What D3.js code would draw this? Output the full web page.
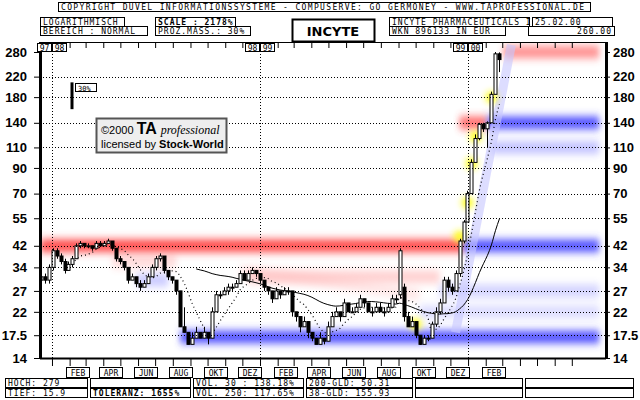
<!DOCTYPE html>
<html><head><meta charset="utf-8">
<script src="https://cdn.jsdelivr.net/npm/d3@7"></script>
<style>
body{margin:0;background:#fff}
text{font-family:"DejaVu Sans Mono",monospace;font-size:8px}
.hd{letter-spacing:1px}
.yl{font-family:"Liberation Sans",sans-serif;font-size:13px;font-weight:bold}
</style></head><body>
<svg id="chart" width="640" height="400"></svg>
<script>
// Weekly candles [open, high, low, close], first week 1997-12-12.
var candles = [
  [30,32,29,31],[31,32,29,30],[30,35,29,34],[34,41,33,40],[40,41,37,38],[38,39,35,36],
  [36,37,32,33],[33,36,33,35],[35,38,34,37],[37,43,37,42],[42,44,41,43],[43,43,41,42],
  [42,43,41,42],[42,42,40,41],[41,44,41,43],[43,44,42,42],[42,44,42,43],[43,45,43,44],
  [44,44,40,41],[41,41,36,37],[37,38,35,36],[36,36,33,34],[34,34,29,30],[30,32,30,31],
  [31,31,28,29],[29,30,27,28],[28,30,28,29],[29,32,29,31],[31,35,31,34],[34,38,33,37],
  [37,39,36,38],[38,38,32,33],[33,33,30,31],[31,31,29,30],[30,30,26,27],[27,27,19,19],
  [19,23,18,18],[18,18,16,16],[16,18,16,17],[17,19,17,18],[18,18,17,17],[17,19,17,18],
  [18,18,16,17],[17,23,17,22],[22,27,22,26],[26,27,25,26],[26,28,26,27],[27,29,26,28],
  [28,29,27,28],[28,30,28,29],[29,33,29,32],[32,33,30,30],[30,33,30,32],[32,34,32,33],
  [33,33,31,32],[32,32,29,30],[30,30,27,28],[28,28,26,27],[27,27,24,25],[25,28,25,27],
  [27,27,25,26],[26,28,26,27],[27,28,26,27],[27,27,21,22],[22,22,20,21],[21,21,18,19],
  [19,21,19,20],[20,20,17,18],[18,18,16.5,17],[17,17,16,16],[16,18,16,17],[17,17,16,16.5],
  [16.5,20,16.5,19],[19,22,19,21],[21,23,21,22],[22,22,20,21],[21,25,21,24],[24,24,22,22],
  [22,23,22,22],[22,24,22,23],[23,26,23,25],[25,25,23,24],[24,24,22,22],[22,23,21,22],
  [22,24,22,23],[23,24,22,22],[22,23,21,22],[22,24,22,23],[23,26,23,25],[25,26,24,25],
  [26,41,25,40],[28,29,20,21],[21,22,19,19],[19,21,19,20],[20,20,17,17.5],[17.5,17.5,15.9,16],
  [16,17.5,16,17],[17,17.5,16.5,17],[17,20,17,19.5],[19.5,23,19,22],[22,25,21.5,24],[24,31,24,30],
  [30,31,27,28],[28,29,26,27],[27,33,27,32],[32,45,31,44],[44,54,43,53],[53,72,53,70],
  [70,98,70,95],[95,125,95,120],[120,140,118,138],[138,140,128,132],[132,142,110,140],
  [140,190,140,185],[185,280,185,275],[275,279,230,260]
];
var firstWeek = new Date(1997, 11, 12);

var yTicks = [280, 220, 180, 140, 110, 90, 70, 55, 42, 34, 27, 22, 17.5, 14];
var monthLabels = ["FEB","APR","JUN","AUG","OKT","DEZ","FEB","APR","JUN","AUG","OKT","DEZ","FEB"];
var yearMarks = [["97","98"],["98","99"],["99","00"]];

// Resistance (red) and support (blue) zones: [value, fromWeek, toWeek, strength]
var redZones = [[42, 0, 106, 1], [280, 116, 140, 0.6], [140, 105, 112, 0.8], [31, 52, 100, 0.25], [36, 18, 34, 0.2]];
var blueZones = [[17.2, 35, 140, 1], [42, 106, 140, 1], [140, 112, 140, 1], [110, 113, 140, 0.35], [30, 24, 32, 0.3], [27, 100, 140, 0.25], [22, 95, 140, 0.2]];
// Highlighted breakout points
var glowWeek = [94, 105, 107, 108, 109, 113];
var glowVal = [19.5, 46, 64, 94, 122, 180];

var header = [
  [58, 2, 532, "COPYRIGHT  DUVEL INFORMATIONSSYSTEME - COMPUSERVE: GO GERMONEY - WWW.TAPROFESSIONAL.DE", false],
  [40, 17, 84, "LOGARITHMISCH", false], [40, 26, 107, "BEREICH : NORMAL", false],
  [155, 17, 80, "SCALE : 2178%", true], [155, 26, 95, "PROZ.MASS.: 30%", false],
  [389, 17, 140, "INCYTE PHARMACEUTICALS I", false], [532, 17, 80, "25.02.00", false],
  [389, 26, 116, "WKN 896133   IN EUR", false], [528, 26, 86, "260.00", false, "end"]
];
var footer = [
  ["HOCH: 279", "TIEF: 15.9"], ["", "TOLERANZ: 1655%"], ["VOL. 30 : 138.18%", "VOL. 250: 117.65%"],
  ["200-GLD: 50.31", " 38-GLD: 155.93"], ["", ""], ["", ""]
];
var footerX = [5, 90, 193, 306, 415, 525, 636];

var svg = d3.select("#chart");
var pl = 40, pr = 606, pt = 42, pb = 358;

var x = d3.scaleTime().domain([new Date(1997, 11, 11), new Date(2000, 7, 30)]).range([pl, pr]);
var y = d3.scaleLog().domain([14, 280]).range([pb, 52]);
var wk = function(i) { return x(d3.timeWeek.offset(firstWeek, i)); };

var defs = svg.append("defs");
defs.append("filter").attr("id", "blur").attr("x", "-20%").attr("y", "-200%").attr("width", "140%").attr("height", "500%")
  .append("feGaussianBlur").attr("stdDeviation", "3 4");
defs.append("filter").attr("id", "glow").attr("x", "-100%").attr("y", "-100%").attr("width", "300%").attr("height", "300%")
  .append("feGaussianBlur").attr("stdDeviation", 3);
defs.append("clipPath").attr("id", "clip").append("rect")
  .attr("x", pl).attr("y", pt).attr("width", pr - pl).attr("height", pb - pt);

var plot = svg.append("g").attr("clip-path", "url(#clip)");

// Zones.
function zones(list, col) {
  plot.selectAll(null).data(list).enter().append("rect")
    .attr("x", function(d) { return wk(d[1]); })
    .attr("width", function(d) { return wk(d[2]) - wk(d[1]); })
    .attr("y", function(d) { return y(d[0]) - 6; })
    .attr("height", 12)
    .attr("fill", col)
    .attr("opacity", function(d) { return d[3]; })
    .attr("filter", "url(#blur)");
}
zones(redZones, "#ff4040");
zones(blueZones, "#4a4aff");

// Trend channel.
plot.append("line")
  .attr("x1", wk(104)).attr("y1", y(18)).attr("x2", wk(118)).attr("y2", y(300))
  .attr("stroke", "#c8c8ff").attr("stroke-width", 9).attr("opacity", 0.6);
plot.append("line")
  .attr("x1", wk(50)).attr("y1", y(33)).attr("x2", wk(95)).attr("y2", y(26))
  .attr("stroke", "#ffb0b0").attr("stroke-width", 10).attr("opacity", 0.35).attr("filter", "url(#blur)");

plot.selectAll(null).data(glowWeek).enter().append("circle")
  .attr("cx", function(d) { return wk(d); })
  .attr("cy", function(d, i) { return y(glowVal[i]); })
  .attr("r", 6).attr("fill", "#ffff20").attr("filter", "url(#glow)");

// Grid.
svg.selectAll(null).data(yTicks.slice(1)).enter().append("line")
  .attr("x1", pl).attr("x2", pr)
  .attr("y1", function(d) { return Math.round(y(d)) + 0.5; })
  .attr("y2", function(d) { return Math.round(y(d)) + 0.5; })
  .attr("stroke", "#000").attr("stroke-dasharray", "1 2");
var years = [new Date(1998, 0, 1), new Date(1999, 0, 1), new Date(2000, 0, 1)];
svg.selectAll(null).data(years).enter().append("line")
  .attr("x1", function(d) { return Math.round(x(d)) + 0.5; })
  .attr("x2", function(d) { return Math.round(x(d)) + 0.5; })
  .attr("y1", pt).attr("y2", pb)
  .attr("stroke", "#000").attr("stroke-dasharray", "1 2");

// Moving averages.
function sma(n) {
  var out = [];
  candles.forEach(function(c, i) {
    if (i >= n - 1) out.push([i, d3.mean(candles.slice(i - n + 1, i + 1), function(d) { return d[3]; })]);
  });
  return out;
}
var line = d3.line().x(function(d) { return wk(d[0]); }).y(function(d) { return y(d[1]); }).curve(d3.curveMonotoneX);
plot.append("path").datum(sma(40)).attr("d", line).attr("fill", "none").attr("stroke", "#000").attr("stroke-width", 1);
plot.append("path").datum(sma(8)).attr("d", line).attr("fill", "none").attr("stroke", "#000").attr("stroke-width", 1.2).attr("stroke-dasharray", "1 3");

// Candles.
var cg = plot.selectAll(null).data(candles).enter().append("g");
cg.append("line")
  .attr("x1", function(d, i) { return Math.round(wk(i)) + 0.5; })
  .attr("x2", function(d, i) { return Math.round(wk(i)) + 0.5; })
  .attr("y1", function(d) { return y(d[1]); })
  .attr("y2", function(d) { return y(d[2]); })
  .attr("stroke", "#000");
cg.append("rect")
  .attr("x", function(d, i) { return Math.round(wk(i)) - 1; })
  .attr("width", 3)
  .attr("y", function(d) { return y(Math.max(d[0], d[3])); })
  .attr("height", function(d) { return Math.max(1, Math.abs(y(d[0]) - y(d[3]))); })
  .attr("fill", function(d) { return d[3] >= d[0] ? "#fff" : "#000"; })
  .attr("stroke", "#000").attr("stroke-width", 1);

// Frame and y axes.
svg.append("line").attr("x1", pl).attr("x2", pr).attr("y1", pt + 0.5).attr("y2", pt + 0.5).attr("stroke", "#000");
svg.append("line").attr("x1", pl + 0.5).attr("x2", pl + 0.5).attr("y1", pt).attr("y2", pb).attr("stroke", "#000").attr("stroke-width", 3);
svg.append("line").attr("x1", pr + 0.5).attr("x2", pr + 0.5).attr("y1", pt).attr("y2", pb).attr("stroke", "#000").attr("stroke-width", 3);
svg.append("line").attr("x1", pl).attr("x2", pr).attr("y1", pb + 0.5).attr("y2", pb + 0.5).attr("stroke", "#000").attr("stroke-width", 2);

var yl = svg.append("g").attr("transform", "translate(" + pl + ",0)")
  .call(d3.axisLeft(y).tickValues(yTicks).tickFormat(d3.format("")).tickSize(6).tickPadding(7));
var yr = svg.append("g").attr("transform", "translate(" + pr + ",0)")
  .call(d3.axisRight(y).tickValues(yTicks).tickFormat(d3.format("")).tickSize(4).tickPadding(3));
[yl, yr].forEach(function(g) {
  g.select(".domain").remove();
  g.selectAll("text").attr("class", "yl").attr("fill", "#000");
});

// Month ticks top and bottom.
var months = d3.timeMonth.range(new Date(1998, 0, 1), new Date(2000, 7, 1));
svg.append("g").attr("transform", "translate(0," + pb + ")")
  .call(d3.axisBottom(x).tickValues(months).tickFormat("").tickSize(8)).select(".domain").remove();
svg.append("g").attr("transform", "translate(0," + pt + ")")
  .call(d3.axisBottom(x).tickValues(months).tickFormat("").tickSize(6)).select(".domain").remove();

var labelMonths = d3.timeMonth.range(new Date(1998, 1, 1), new Date(2000, 2, 1), 2);
var mg = svg.selectAll(null).data(labelMonths).enter().append("g")
  .attr("transform", function(d) { return "translate(" + Math.round(x(d3.timeDay.offset(d, 14))) + ",367)"; });
mg.append("rect").attr("x", -11.5).attr("y", 0.5).attr("width", 23).attr("height", 10).attr("fill", "#fff").attr("stroke", "#000");
mg.append("text").attr("y", 8.5).attr("text-anchor", "middle").text(function(d, i) { return monthLabels[i]; });

// Year markers.
var ym = svg.selectAll(null).data(years).enter().append("g")
  .attr("transform", function(d) { return "translate(" + Math.round(x(d)) + "," + (pt + 1) + ")"; });
ym.append("rect").attr("x", -14.5).attr("y", 0.5).attr("width", 14).attr("height", 8).attr("fill", "#fff").attr("stroke", "#000");
ym.append("rect").attr("x", 0.5).attr("y", 0.5).attr("width", 14).attr("height", 8).attr("fill", "#fff").attr("stroke", "#000");
ym.append("text").attr("x", -7.5).attr("y", 7.5).attr("text-anchor", "middle").text(function(d, i) { return yearMarks[i][0]; });
ym.append("text").attr("x", 7.5).attr("y", 7.5).attr("text-anchor", "middle").text(function(d, i) { return yearMarks[i][1]; });

// Header boxes.
var hg = svg.selectAll(null).data(header).enter().append("g");
hg.append("rect").attr("x", function(d) { return d[0] + 0.5; }).attr("y", function(d) { return d[1] + 0.5; })
  .attr("width", function(d) { return d[2]; }).attr("height", 9).attr("fill", "#fff").attr("stroke", "#000");
hg.append("text").attr("class", "hd")
  .attr("x", function(d) { return d[5] == "end" ? d[0] + d[2] - 2 : d[0] + 3; })
  .attr("y", function(d) { return d[1] + 8; })
  .attr("text-anchor", function(d) { return d[5] || "start"; })
  .attr("font-weight", function(d) { return d[4] ? "bold" : "normal"; })
  .attr("textLength", function(d, i) { return i == 0 ? d[2] - 8 : null; })
  .text(function(d) { return d[3]; });
svg.append("rect").attr("x", 292.5).attr("y", 19.5).attr("width", 82).attr("height", 22).attr("fill", "#fff").attr("stroke", "#000").attr("stroke-width", 2);
svg.append("text").attr("x", 333).attr("y", 36).attr("text-anchor", "middle")
  .style("font-family", "'DejaVu Sans',sans-serif").style("font-size", "13px").style("font-weight", "bold").text("INCYTE");

// Scale bar and logo.
svg.append("line").attr("x1", 72).attr("x2", 72).attr("y1", y(160)).attr("y2", y(160 * 1.3)).attr("stroke", "#000").attr("stroke-width", 3);
svg.append("rect").attr("x", 75.5).attr("y", 83.5).attr("width", 21).attr("height", 8).attr("fill", "#fff").attr("stroke", "#000");
svg.append("text").attr("x", 78).attr("y", 90.5).style("font-size", "7px").text("30%");
svg.append("rect").attr("x", 96.5).attr("y", 118.5).attr("width", 130).attr("height", 34).attr("fill", "#eee").attr("stroke", "#555").attr("stroke-width", 2);
var logo = svg.append("text").attr("x", 101).attr("y", 134).style("font-family", "'Liberation Sans',sans-serif").style("font-size", "11px");
logo.append("tspan").text("\u00a92000 ");
logo.append("tspan").style("font-size", "16px").style("font-weight", "bold").text("TA ");
logo.append("tspan").style("font-family", "'Liberation Serif',serif").style("font-style", "italic").style("font-size", "12px").text("professional");
var logo2 = svg.append("text").attr("x", 101).attr("y", 148).style("font-family", "'Liberation Sans',sans-serif").style("font-size", "11px");
logo2.append("tspan").text("licensed by ");
logo2.append("tspan").style("font-weight", "bold").text("Stock-World");

// Footer.
footer.forEach(function(rows, i) {
  [0, 1].forEach(function(r) {
    svg.append("rect").attr("x", footerX[i] + 0.5).attr("y", 378.5 + r * 10).attr("width", footerX[i + 1] - footerX[i] - 3).attr("height", 9)
      .attr("fill", "#fff").attr("stroke", "#000");
    svg.append("text").attr("class", "hd").attr("x", footerX[i] + 3).attr("y", 386 + r * 10)
      .attr("font-weight", rows[r].indexOf("TOLERANZ") == 0 ? "bold" : "normal").text(rows[r]);
  });
});
</script></body></html>
